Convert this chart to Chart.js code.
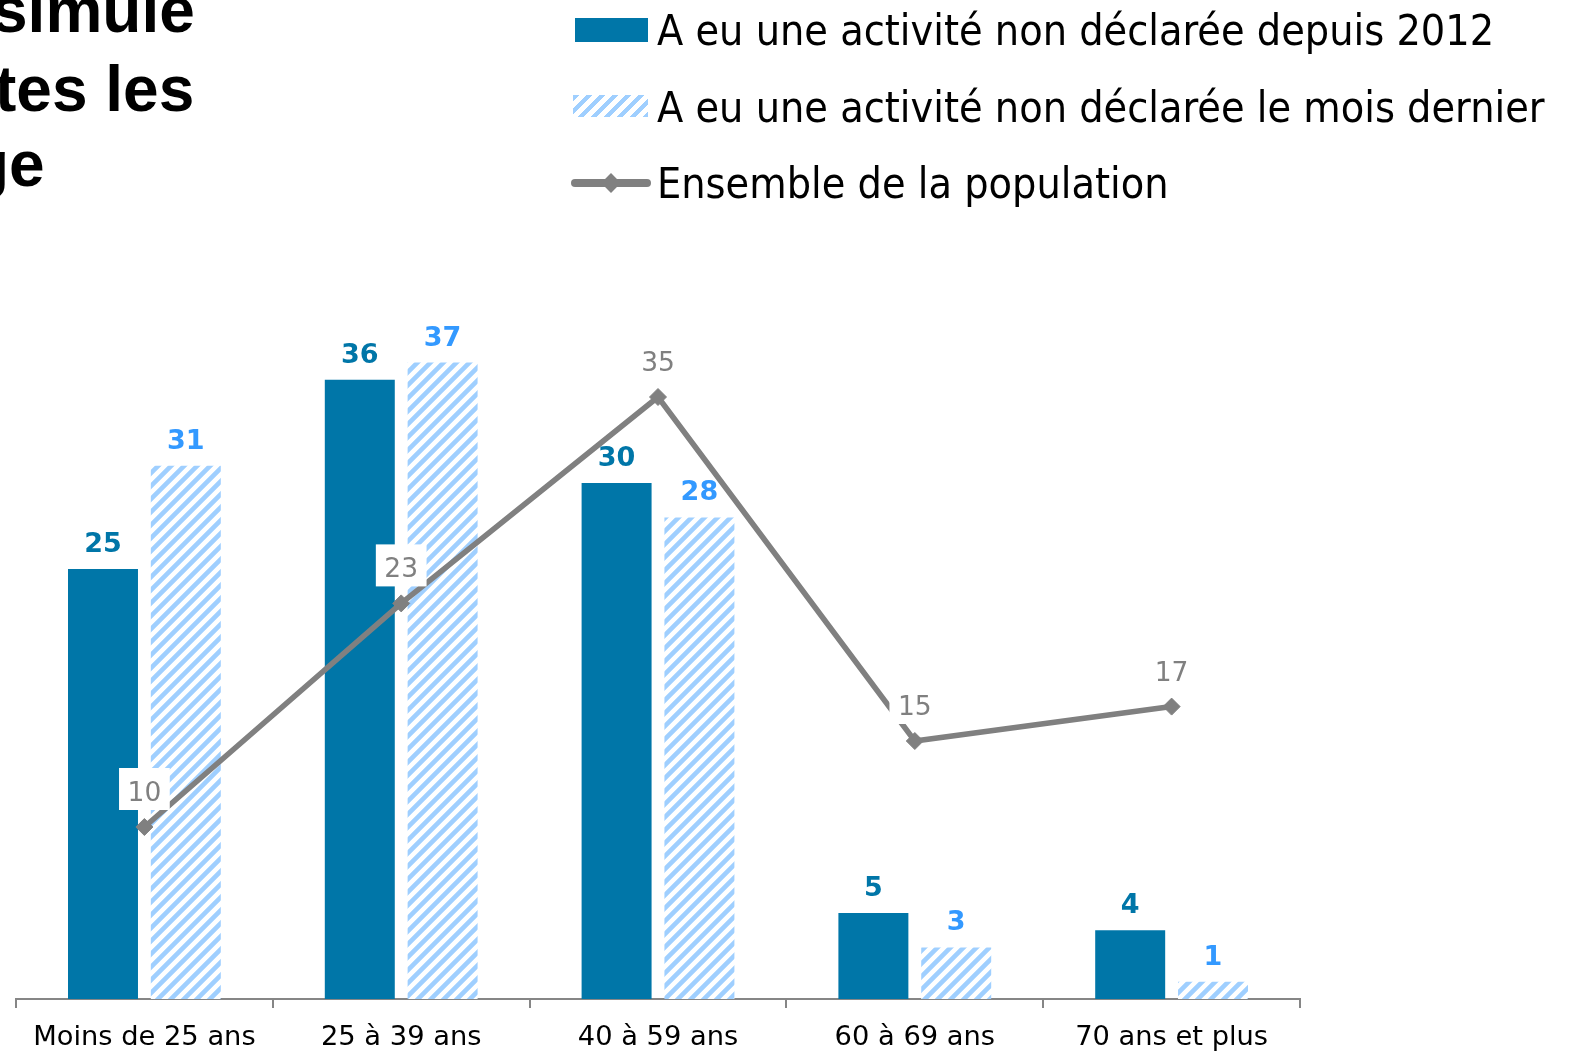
<!DOCTYPE html>
<html>
<head>
<meta charset="utf-8">
<script src="https://cdn.jsdelivr.net/npm/chart.js@4.4.1/dist/chart.umd.min.js"></script>
<style>
  body { margin: 0; background: #fff; }
  #wrap { position: relative; width: 1569px; height: 1053px; overflow: hidden; }
  #chart { position: absolute; left: 0; top: 0; }
  .title { position: absolute; font: bold 64px "Liberation Sans", Arial, sans-serif; line-height: 64px; white-space: nowrap; color: #000; }
  .leg { position: absolute; left: 657px; font: 42.7px "DejaVu Sans Condensed", "DejaVu Sans", sans-serif; line-height: 42px; white-space: nowrap; color: #000; }
  .sw { position: absolute; }
</style>
</head>
<body>
<div id="wrap">
  <canvas id="chart" width="1569" height="1053"></canvas>

  <div class="title" style="left:-8px; top:-22px">simule</div>
  <div class="title" style="left:-5px; top:57px">tes les</div>
  <div class="title" style="left:-30px; top:132px">ge</div>

  <div class="sw" style="left:575px; top:18px; width:73px; height:24px; background:#0076a8"></div>
  <div class="sw" style="left:573px; top:95px; width:75px; height:22px; background:repeating-linear-gradient(135deg, #9fcfff 0 4.5px, #fff 4.5px 9.2px)"></div>
  <div class="sw" style="left:571px; top:179px; width:80px; height:8px; border-radius:4px; background:#808080"></div>
  <div class="sw" style="left:604px; top:176px; width:14px; height:14px; background:#808080; transform:rotate(45deg)"></div>
  <div class="leg" id="leg0" style="top:9px"></div>
  <div class="leg" id="leg1" style="top:86px"></div>
  <div class="leg" id="leg2" style="top:162px"></div>
</div>

<script>
const categories = ['Moins de 25 ans', '25 à 39 ans', '40 à 59 ans', '60 à 69 ans', '70 ans et plus'];
const seriesNames = [
  'A eu une activité non déclarée depuis 2012',
  'A eu une activité non déclarée le mois dernier',
  'Ensemble de la population'
];
const depuis2012 = [25, 36, 30, 5, 4];
const moisDernier = [31, 37, 28, 3, 1];
const ensemble = [10, 23, 35, 15, 17];

seriesNames.forEach((n, i) => { document.getElementById('leg' + i).textContent = n; });

// light blue diagonal stripes on white
function hatch() {
  const s = 13;
  const c = document.createElement('canvas');
  c.width = s; c.height = s;
  const g = c.getContext('2d');
  g.fillStyle = '#fff';
  g.fillRect(0, 0, s, s);
  g.strokeStyle = '#9fcfff';
  g.lineWidth = 4.6;
  g.beginPath();
  g.moveTo(-2, s + 2); g.lineTo(s + 2, -2);
  g.moveTo(-4, 4); g.lineTo(4, -4);
  g.moveTo(s - 4, s + 4); g.lineTo(s + 4, s - 4);
  g.stroke();
  return g.createPattern(c, 'repeat');
}

// value labels above bars and points
const valueLabels = {
  id: 'valueLabels',
  afterDatasetsDraw(chart) {
    const ctx = chart.ctx;
    chart.data.datasets.forEach((ds, i) => {
      const meta = chart.getDatasetMeta(i);
      meta.data.forEach((el, j) => {
        const v = String(ds.data[j]);
        ctx.save();
        ctx.textAlign = 'center';
        ctx.textBaseline = 'alphabetic';
        if (ds.type === 'line') {
          ctx.font = '26.5px "DejaVu Sans"';
          const w = ctx.measureText(v).width + 17;
          ctx.fillStyle = '#fff';
          ctx.fillRect(el.x - w / 2, el.y - 59, w, 42);
          ctx.fillStyle = '#808080';
          ctx.fillText(v, el.x, el.y - 26);
        } else {
          ctx.font = 'bold 27px "DejaVu Sans"';
          ctx.fillStyle = ds.labelColor;
          ctx.fillText(v, el.x, el.y - 17);
        }
        ctx.restore();
      });
    });
  }
};

new Chart(document.getElementById('chart'), {
  type: 'bar',
  data: {
    labels: categories,
    datasets: [
      {
        label: seriesNames[0],
        data: depuis2012,
        backgroundColor: '#0076a8',
        labelColor: '#0076a8',
        categoryPercentage: 0.645,
        barPercentage: 0.845,
        order: 1
      },
      {
        label: seriesNames[1],
        data: moisDernier,
        backgroundColor: hatch(),
        labelColor: '#3399ff',
        categoryPercentage: 0.645,
        barPercentage: 0.845,
        order: 2
      },
      {
        type: 'line',
        label: seriesNames[2],
        data: ensemble,
        borderColor: '#808080',
        backgroundColor: '#808080',
        borderWidth: 5.5,
        tension: 0,
        pointStyle: 'rectRot',
        pointRadius: 8.5,
        pointBorderWidth: 1,
        order: 0
      }
    ]
  },
  options: {
    responsive: false,
    animation: false,
    layout: { padding: { left: 16, right: 269, top: 311, bottom: 0 } },
    plugins: {
      legend: { display: false },
      tooltip: { enabled: false }
    },
    scales: {
      y: { display: false, min: 0, max: 40 },
      x: {
        grid: { display: true, drawOnChartArea: false, color: '#868686', lineWidth: 2, tickLength: 9, offset: true },
        border: { color: '#868686', width: 2 },
        ticks: { color: '#000', font: { family: 'DejaVu Sans', size: 27.3 }, padding: 14, maxRotation: 0 },
        afterFit(scale) { scale.height = 54; }
      }
    }
  },
  plugins: [valueLabels]
});
</script>
</body>
</html>
